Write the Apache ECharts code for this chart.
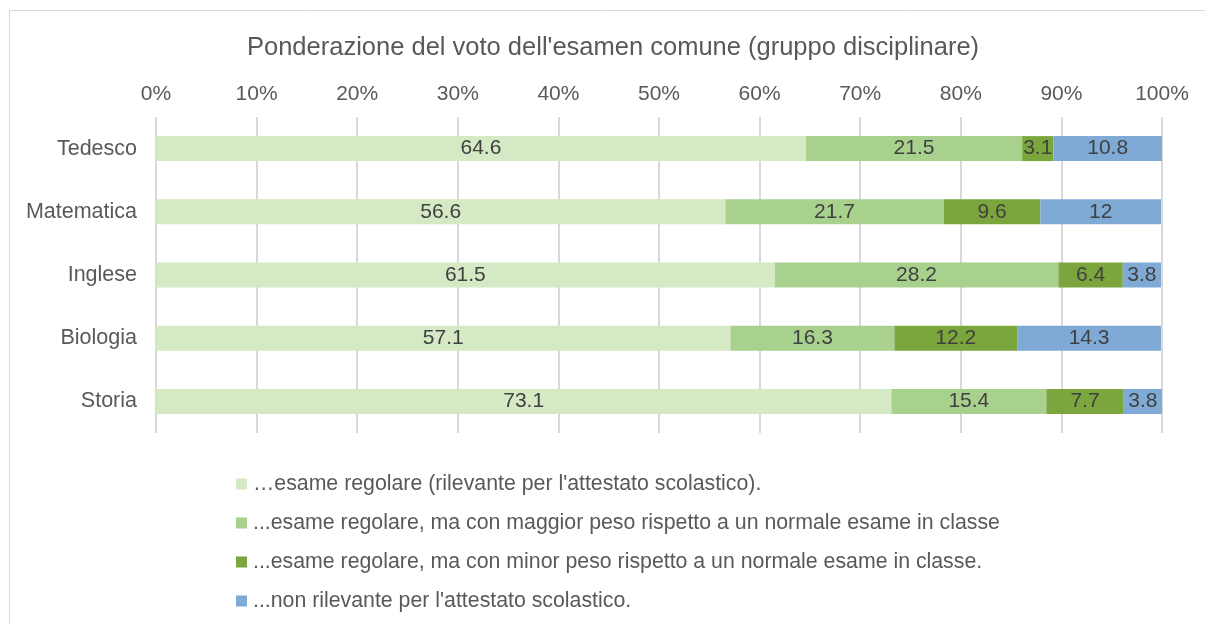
<!DOCTYPE html>
<html>
<head>
<meta charset="utf-8">
<script src="https://cdn.jsdelivr.net/npm/echarts@6/dist/echarts.min.js"></script>
<style>
html,body{margin:0;padding:0;background:#fff;}
#chart{width:1205px;height:624px;}
</style>
</head>
<body>
<div id="chart"></div>
<script>
const categories = ['Tedesco', 'Matematica', 'Inglese', 'Biologia', 'Storia'];
const seriesNames = [
  '\u2026esame regolare (rilevante per l\'attestato scolastico).',
  '...esame regolare, ma con maggior peso rispetto a un normale esame in classe',
  '...esame regolare, ma con minor peso rispetto a un normale esame in classe.',
  '...non rilevante per l\'attestato scolastico.'
];
const regolare = [64.6, 56.6, 61.5, 57.1, 73.1];
const maggiorPeso = [21.5, 21.7, 28.2, 16.3, 15.4];
const minorPeso = [3.1, 9.6, 6.4, 12.2, 7.7];
const nonRilevante = [10.8, 12, 3.8, 14.3, 3.8];
const tickValues = [0, 10, 20, 30, 40, 50, 60, 70, 80, 90, 100];
const colors = ['#D5E9C4', '#A9D18E', '#7BA63D', '#80AAD6'];
const font = 'Liberation Sans, Arial, sans-serif';

const dataSets = [regolare, maggiorPeso, minorPeso, nonRilevante];
const chart = echarts.init(document.getElementById('chart'));
chart.setOption({
  animation: false,
  textStyle: { fontFamily: font },
  title: {
    text: 'Ponderazione del voto dell\'esamen comune (gruppo disciplinare)',
    left: 242, top: 30,
    textStyle: { fontFamily: font, fontSize: 25.5, fontWeight: 'normal', color: '#595959' }
  },
  graphic: [{
    type: 'rect', silent: true,
    shape: { x: 9.5, y: 10.5, width: 1210, height: 630 },
    style: { fill: 'none', stroke: '#d9d9d9', lineWidth: 1 }
  }],
  grid: { left: 156, right: 43, top: 117, bottom: 191, containLabel: false },
  xAxis: {
    type: 'value', position: 'top', min: 0, max: 100, interval: 10,
    axisLine: { show: false }, axisTick: { show: false },
    axisLabel: { formatter: '{value}%', fontSize: 21, color: '#595959', margin: 12, fontFamily: font },
    splitLine: { lineStyle: { color: '#d9d9d9', width: 2 } }
  },
  yAxis: {
    type: 'category', data: categories, inverse: true,
    axisLine: { show: false }, axisTick: { show: false },
    axisLabel: { fontSize: 21.5, color: '#595959', margin: 19, fontFamily: font }
  },
  legend: {
    orient: 'vertical', left: 231, top: 467,
    itemWidth: 11, itemHeight: 11, itemGap: 15,
    icon: 'rect',
    textStyle: { fontSize: 21.3, color: '#595959', lineHeight: 24, padding: [0, 0, 0, 1], fontFamily: font },
    data: seriesNames
  },
  series: dataSets.map((d, i) => ({
    name: seriesNames[i], type: 'bar', stack: 'total',
    data: d, barWidth: 25,
    itemStyle: { color: colors[i] },
    label: { show: true, position: 'inside', fontSize: 21, color: '#404040', fontFamily: font }
  }))
});
</script>
</body>
</html>
